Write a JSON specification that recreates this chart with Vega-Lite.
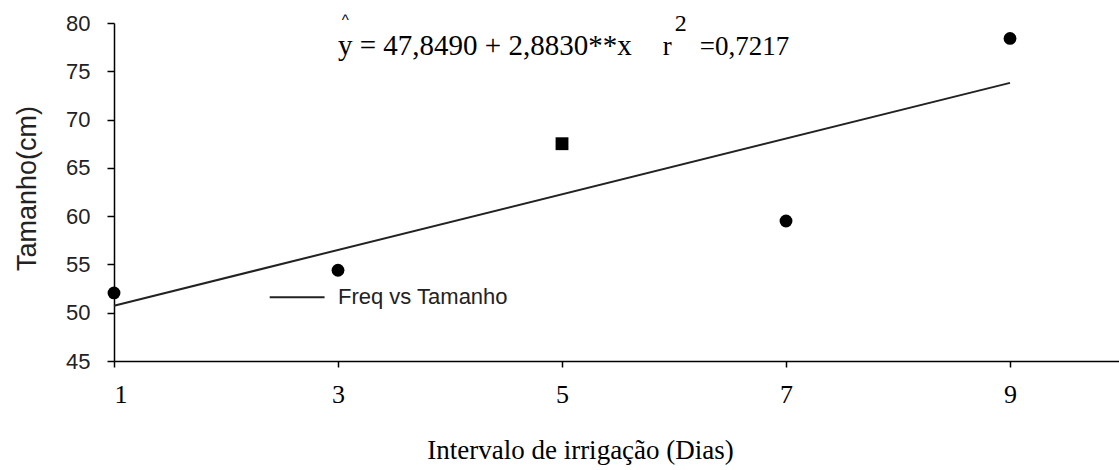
{
  "$schema": "https://vega.github.io/schema/vega-lite/v6.json",
  "width": 1005,
  "height": 338,
  "autosize": "none",
  "padding": {"left": 114, "top": 23, "right": 0, "bottom": 109},
  "background": "white",
  "config": {"view": {"stroke": null}},
  "datasets": {
    "pts": [
      {"dias": 1, "tamanho": 52.05, "forma": "circle"},
      {"dias": 3, "tamanho": 54.4, "forma": "circle"},
      {"dias": 5, "tamanho": 67.5, "forma": "square"},
      {"dias": 7, "tamanho": 59.5, "forma": "circle"},
      {"dias": 9, "tamanho": 78.4, "forma": "circle"}
    ],
    "fit": [
      {"dias": 1, "tamanho": 50.73},
      {"dias": 9, "tamanho": 73.80}
    ],
    "leg": [
      {"dias": 2.39, "tamanho": 51.6},
      {"dias": 2.88, "tamanho": 51.6}
    ]
  },
  "layer": [
    {
      "data": {"name": "fit"},
      "mark": {"type": "line", "color": "#222222", "strokeWidth": 2},
      "encoding": {
        "x": {
          "field": "dias", "type": "quantitative",
          "scale": {"domain": [1, 9.973], "nice": false, "zero": false},
          "axis": {
            "values": [1, 3, 5, 7, 9],
            "format": "d",
            "grid": false,
            "domainColor": "black", "domainWidth": 1.5,
            "tickColor": "black", "tickWidth": 1.5, "tickSize": 6,
            "labelFont": "Liberation Serif", "labelFontSize": 26, "labelColor": "black",
            "labelPadding": 14,
            "title": "Intervalo de irrigação (Dias)",
            "titleFont": "Liberation Serif", "titleFontSize": 27, "titleFontWeight": "normal",
            "titleColor": "black",
            "titleAnchor": null, "titleAlign": "center", "titleBaseline": "middle",
            "titleX": 466, "titleY": 89
          }
        },
        "y": {
          "field": "tamanho", "type": "quantitative",
          "scale": {"domain": [45, 80], "nice": false, "zero": false},
          "axis": {
            "values": [45, 50, 55, 60, 65, 70, 75, 80],
            "grid": false,
            "domainColor": "black", "domainWidth": 1.5,
            "tickColor": "black", "tickWidth": 1.5, "tickSize": 7,
            "labelFont": "Liberation Sans", "labelFontSize": 22, "labelColor": "#222222",
            "labelPadding": 17,
            "title": "Tamanho(cm)",
            "titleFont": "Liberation Sans", "titleFontSize": 27, "titleFontWeight": "normal",
            "titleColor": "#222222",
            "titleAnchor": null, "titleAlign": "center", "titleBaseline": "middle",
            "titleX": -87, "titleY": 165, "titleAngle": -90
          }
        }
      }
    },
    {
      "data": {"name": "pts"},
      "mark": {"type": "point", "filled": true, "color": "black", "opacity": 1, "size": 165},
      "encoding": {
        "x": {"field": "dias", "type": "quantitative"},
        "y": {"field": "tamanho", "type": "quantitative"},
        "shape": {"field": "forma", "type": "nominal", "scale": {"domain": ["circle", "square"], "range": ["circle", "square"]}, "legend": null}
      }
    },
    {
      "data": {"name": "leg"},
      "mark": {"type": "line", "color": "#222222", "strokeWidth": 2},
      "encoding": {
        "x": {"field": "dias", "type": "quantitative"},
        "y": {"field": "tamanho", "type": "quantitative"}
      }
    },
    {
      "data": {"values": [{"dias": 3.0, "tamanho": 51.6, "label": "Freq vs Tamanho"}]},
      "mark": {"type": "text", "align": "left", "baseline": "middle", "font": "Liberation Sans", "fontSize": 22, "color": "#222222"},
      "encoding": {
        "x": {"field": "dias", "type": "quantitative"},
        "y": {"field": "tamanho", "type": "quantitative"},
        "text": {"field": "label"}
      }
    },
    {
      "data": {"values": [
        {"dias": 3.0, "tamanho": 76.66, "label": "y = 47,8490 + 2,8830**x"}
      ]},
      "mark": {"type": "text", "align": "left", "baseline": "alphabetic", "font": "Liberation Serif", "fontSize": 29, "color": "black", "clip": false},
      "encoding": {
        "x": {"field": "dias", "type": "quantitative"},
        "y": {"field": "tamanho", "type": "quantitative"},
        "text": {"field": "label"}
      }
    },
    {
      "data": {"values": [
        {"dias": 5.9, "tamanho": 76.66, "label": "r"},
        {"dias": 6.23, "tamanho": 76.66, "label": "=0,7217"}
      ]},
      "mark": {"type": "text", "align": "left", "baseline": "alphabetic", "font": "Liberation Serif", "fontSize": 27, "color": "black", "clip": false},
      "encoding": {
        "x": {"field": "dias", "type": "quantitative"},
        "y": {"field": "tamanho", "type": "quantitative"},
        "text": {"field": "label"}
      }
    },
    {
      "data": {"values": [{"dias": 6.06, "tamanho": 79.85, "label": "2"}]},
      "mark": {"type": "text", "align": "center", "baseline": "middle", "font": "Liberation Serif", "fontSize": 24, "color": "black", "clip": false},
      "encoding": {
        "x": {"field": "dias", "type": "quantitative"},
        "y": {"field": "tamanho", "type": "quantitative"},
        "text": {"field": "label"}
      }
    },
    {
      "data": {"values": [{"dias": 3.065, "tamanho": 80.3, "label": "^"}]},
      "mark": {"type": "text", "align": "center", "baseline": "middle", "font": "Liberation Sans", "fontSize": 15, "color": "black", "clip": false},
      "encoding": {
        "x": {"field": "dias", "type": "quantitative"},
        "y": {"field": "tamanho", "type": "quantitative"},
        "text": {"field": "label"}
      }
    }
  ]
}
